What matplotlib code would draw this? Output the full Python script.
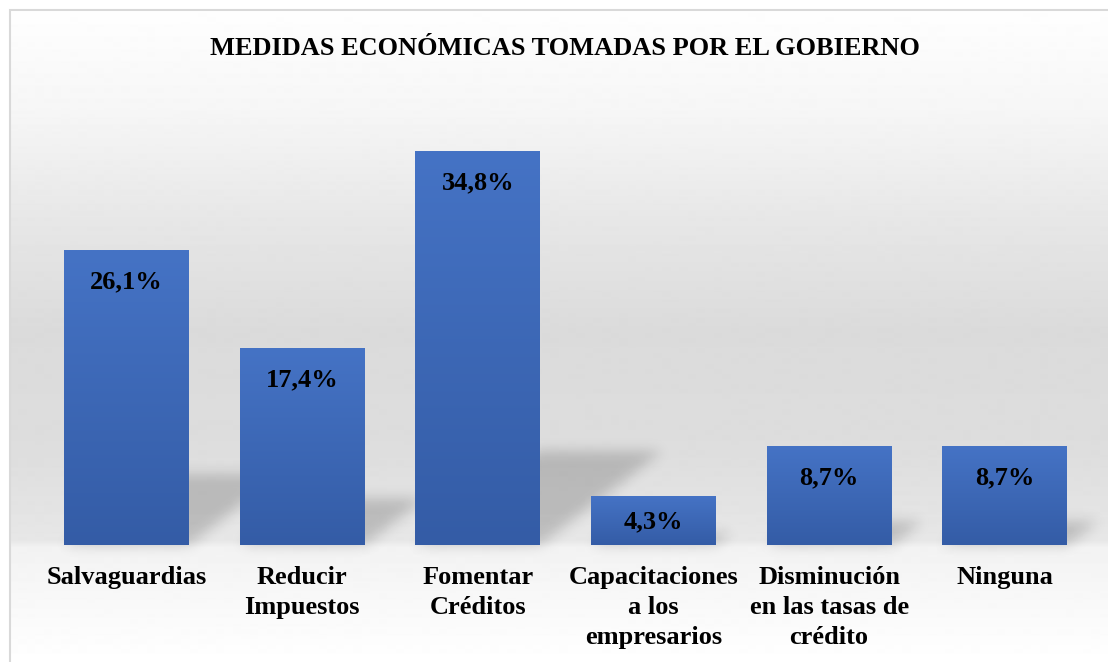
import numpy as np
import matplotlib.pyplot as plt
from matplotlib.colors import LinearSegmentedColormap
from matplotlib.patches import Rectangle

# data
categories = ["Salvaguardias", "Reducir\nImpuestos", "Fomentar\nCréditos",
              "Capacitaciones\na los\nempresarios",
              "Disminución\nen las tasas de\ncrédito", "Ninguna"]
values = [26.1, 17.4, 34.8, 4.3, 8.7, 8.7]
value_labels = ["26,1%", "17,4%", "34,8%", "4,3%", "8,7%", "8,7%"]
title = "MEDIDAS ECONÓMICAS TOMADAS POR EL GOBIERNO"

W, H = 1108, 662
plt.rcParams['font.family'] = ['Liberation Serif', 'DejaVu Serif']

fig = plt.figure(figsize=(W / 100, H / 100), dpi=100)

# background layer in pixel coordinates
bg = fig.add_axes([0, 0, 1, 1])
bg.set_xlim(0, W)
bg.set_ylim(0, H)
bg.axis('off')

# soft grey gradient (distance from top -> grey level)
stops_y = [0, 110, 220, 330, 450, 540, 547, 662]
stops_g = [1.0, 0.965, 0.905, 0.858, 0.868, 0.905, 0.95, 1.0]
rows = np.interp(np.arange(H), stops_y, stops_g)
grad = np.repeat(rows[:, None], W, axis=1)
bg_img = bg.imshow(grad, cmap='gray', vmin=0, vmax=1, extent=(0, W, 0, H),
                   aspect='auto', interpolation='bilinear', zorder=0)
# chart frame: only top and left edges fall inside the picture
frame = Rectangle((9.5, -20), W + 20, H - 9.5 + 20, fill=False,
                  edgecolor='#d9d9d9', lw=1.5, zorder=5)
bg.add_patch(frame)
bg_img.set_clip_path(frame)

# main chart axes
ax = fig.add_axes([38.7 / W, 117 / H, (1092.6 - 38.7) / W, 452 / H])
ax.patch.set_alpha(0)
x = np.arange(len(values))
bw = 0.71
bars = ax.bar(x, values, width=bw, color='none', zorder=3)

# blue vertical gradient inside each bar
bar_cmap = LinearSegmentedColormap.from_list('bar', ['#345ca6', '#4573c5'])
ramp = np.linspace(0, 1, 256).reshape(-1, 1)
for xi, v in zip(x, values):
    ax.imshow(ramp, cmap=bar_cmap, extent=(xi - bw / 2, xi + bw / 2, 0, v),
              origin='lower', aspect='auto', zorder=3)
ax.set_xlim(-0.5, len(values) - 0.5)
ax.set_ylim(0, 40)

# perspective shadows behind bars, blurred
Xd, Yd = np.meshgrid(np.arange(W) + 0.5, np.arange(H) + 0.5)
mask = np.zeros((H, W))
k = 1.3
for xi, v in zip(x, values):
    xl, yb = ax.transData.transform((xi - bw / 2, 0))
    xr, yt = ax.transData.transform((xi + bw / 2, v))
    hs = 0.24 * (yt - yb)
    dy = Yd - yb
    inside = (dy >= 0) & (dy <= hs) & (Xd >= xl + k * dy) & (Xd <= xr + k * dy)
    mask[inside] = 1.0
t = np.arange(-20, 21)
kern = np.exp(-t ** 2 / (2 * 6.5 ** 2))
kern /= kern.sum()
mask = np.apply_along_axis(lambda r: np.convolve(r, kern, mode='same'), 1, mask)
mask = np.apply_along_axis(lambda c: np.convolve(c, kern, mode='same'), 0, mask)
shadow = np.zeros((H, W, 4))
shadow[..., 3] = 0.18 * mask
bg.imshow(shadow, extent=(0, W, 0, H), origin='lower', aspect='auto', zorder=1)

# value labels inside the bars
for xi, v, lbl in zip(x, values, value_labels):
    yb = ax.transData.transform((xi, 0))[1]
    yt = ax.transData.transform((xi, v))[1]
    off = min(38, (yt - yb) / 2 + 8)
    ax.annotate(lbl, xy=(xi, v), xytext=(0, -off), textcoords='offset pixels',
                ha='center', va='baseline', fontsize=19, fontweight='bold',
                color='black', zorder=5)

ax.set_xticks(x)
ax.set_xticklabels(categories, fontsize=19, fontweight='bold', linespacing=1.38)
ax.tick_params(axis='x', length=0, pad=15)
ax.set_yticks([])
for s in ax.spines.values():
    s.set_visible(False)

fig.text(565 / W, 1 - 55 / H, title, ha='center', va='baseline',
         fontsize=19, fontweight='bold', color='black')

fig.savefig('out.png', dpi=100)
